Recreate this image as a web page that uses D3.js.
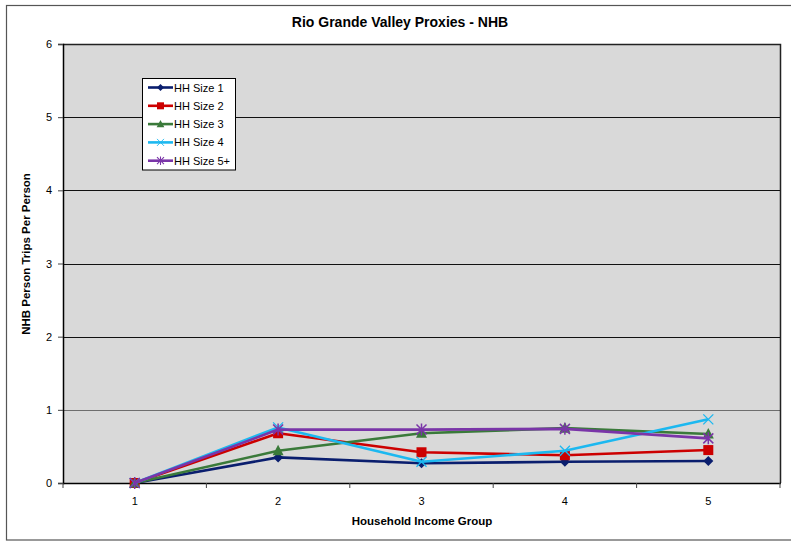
<!DOCTYPE html>
<html><head><meta charset="utf-8">
<script src="https://cdn.jsdelivr.net/npm/d3@7"></script>
<style>body{margin:0;background:#fff;}svg{display:block;font-family:"Liberation Sans",Arial,sans-serif;}</style>
</head><body><svg id="c" width="791" height="541"></svg>
<script>
const categories = ["1","2","3","4","5"];
const seriesNames = ["HH Size 1","HH Size 2","HH Size 3","HH Size 4","HH Size 5+"];
const hh1 = [0, 0.35, 0.27, 0.29, 0.30];
const hh2 = [0, 0.68, 0.42, 0.38, 0.45];
const hh3 = [0, 0.44, 0.68, 0.75, 0.67];
const hh4 = [0, 0.76, 0.29, 0.44, 0.87];
const hh5 = [0, 0.73, 0.73, 0.74, 0.61];
const yTicks = [0,1,2,3,4,5,6];
const colors = ["#0A1E6E","#CC0000","#3A7A3A","#1CB8F0","#7A35A8"];
const markers = ["diamond","square","triangle","x","star"];
const seriesValues = [hh1,hh2,hh3,hh4,hh5];

const svg = d3.select("#c");
const L=63,R=780,T=44,B=483;
// outer frame
svg.append("rect").attr("x",6.5).attr("y",5.5).attr("width",790).attr("height",534.5)
  .attr("fill","#fff").attr("stroke","#555").attr("stroke-width",1.2);
// plot bg
svg.append("rect").attr("x",L).attr("y",T).attr("width",R-L).attr("height",B-T).attr("fill","#D9D9D9");

const x = d3.scaleBand().domain(categories).range([L,R]).padding(0);
const y = d3.scaleLinear().domain([0,6]).range([B,T]);

// gridlines
svg.append("g").selectAll("line").data(yTicks.filter(t=>t>0&&t<6)).join("line")
  .attr("x1",L).attr("x2",R).attr("y1",d=>Math.round(y(d))+0.5).attr("y2",d=>Math.round(y(d))+0.5)
  .attr("stroke",d=>d===1?"#6e6e6e":"#111").attr("stroke-width",1.2);
// plot frame top/right
svg.append("path").attr("d",`M${L},${T+0.5}H${R+0.5}V${B}`).attr("fill","none").attr("stroke","#222").attr("stroke-width",1.5);

// y axis
const yAxis = d3.axisLeft(y).tickValues(yTicks).tickSize(5).tickPadding(6).tickFormat(d3.format("d"));
const gy = svg.append("g").attr("transform",`translate(${L},0)`).call(yAxis);
gy.select(".domain").attr("stroke","#000").attr("stroke-width",1.5);
gy.selectAll(".tick line").attr("stroke","#444");
gy.selectAll("text").attr("font-size",11).attr("fill","#000").attr("font-family","Liberation Sans, Arial, sans-serif");

// x axis
const xAxis = d3.axisBottom(x).tickSize(0).tickPadding(14);
const gx = svg.append("g").attr("transform",`translate(0,${B})`).call(xAxis);
gx.select(".domain").remove();
gx.selectAll("text").attr("font-size",11).attr("fill","#000").attr("font-family","Liberation Sans, Arial, sans-serif");
svg.append("line").attr("x1",L).attr("x2",R+1).attr("y1",B+0.5).attr("y2",B+0.5).attr("stroke","#000").attr("stroke-width",1.5);
const bounds = categories.map(c=>x(c)).concat([R]);
svg.append("g").selectAll("line").data(bounds).join("line")
  .attr("x1",d=>d).attr("x2",d=>d).attr("y1",B).attr("y2",B+5).attr("stroke","#444");

// symbols
function sym(type, g, color){
  if(type==="diamond") g.append("path").attr("d","M0,-5L5,0L0,5L-5,0Z").attr("fill",color);
  else if(type==="square") g.append("rect").attr("x",-5).attr("y",-5).attr("width",10).attr("height",10).attr("fill",color);
  else if(type==="triangle") g.append("path").attr("d","M0,-6L5.5,4.5L-5.5,4.5Z").attr("fill",color);
  else if(type==="x") g.append("path").attr("d","M-5,-5L5,5M-5,5L5,-5").attr("stroke",color).attr("stroke-width",1.3);
  else if(type==="star") g.append("path").attr("d","M-5,-5L5,5M-5,5L5,-5M0,-6V6").attr("stroke",color).attr("stroke-width",1.5);
}

const line = d3.line().x((d,i)=>x(categories[i])+x.bandwidth()/2).y(d=>y(d));
seriesValues.forEach((vals,si)=>{
  svg.append("path").datum(vals).attr("d",line).attr("fill","none").attr("stroke",colors[si]).attr("stroke-width",2.6).attr("stroke-linejoin","round");
  vals.forEach((v,i)=>{
    const g = svg.append("g").attr("transform",`translate(${x(categories[i])+x.bandwidth()/2},${y(v)})`);
    sym(markers[si], g, colors[si]);
  });
});

// legend
const lg = svg.append("g");
lg.append("rect").attr("x",142.5).attr("y",78.5).attr("width",93).attr("height",91.5).attr("fill","#fff").attr("stroke","#000").attr("stroke-width",1);
seriesNames.forEach((n,i)=>{
  const yy = 87.5 + i*18.3;
  lg.append("line").attr("x1",148).attr("x2",173).attr("y1",yy).attr("y2",yy).attr("stroke",colors[i]).attr("stroke-width",2.6);
  const g = lg.append("g").attr("transform",`translate(160.5,${yy})`);
  const s = g.append("g").attr("transform","scale(0.7)");
  sym(markers[i], s, colors[i]);
  lg.append("text").attr("x",174).attr("y",yy+4).attr("font-size",11).attr("fill","#000").text(n);
});

// title
svg.append("text").attr("x",400).attr("y",27).attr("text-anchor","middle").attr("font-size",14).attr("font-weight","bold").text("Rio Grande Valley Proxies - NHB");
svg.append("text").attr("x",422).attr("y",525).attr("text-anchor","middle").attr("font-size",11.5).attr("font-weight","bold").text("Household Income Group");
svg.append("text").attr("transform","translate(30,254) rotate(-90)").attr("text-anchor","middle").attr("font-size",11.5).attr("font-weight","bold").text("NHB Person Trips Per Person");
</script></body></html>
